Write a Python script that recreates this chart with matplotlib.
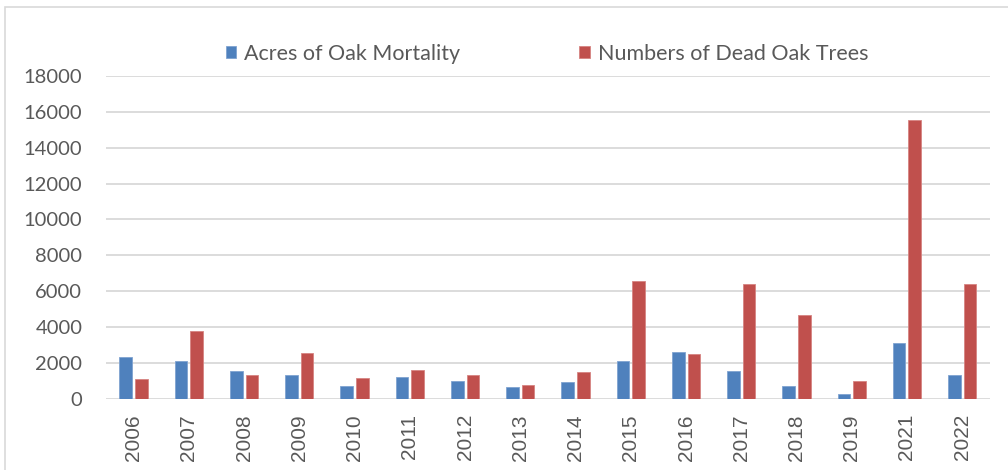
import numpy as np
import matplotlib
matplotlib.use('Agg')
import matplotlib.pyplot as plt
from matplotlib.patches import Rectangle

years = ['2006', '2007', '2008', '2009', '2010', '2011', '2012', '2013',
         '2014', '2015', '2016', '2017', '2018', '2019', '2021', '2022']
acres = [2310, 2090, 1530, 1340, 710, 1230, 970, 650,
         910, 2100, 2590, 1530, 740, 260, 3110, 1300]
dead_trees = [1120, 3800, 1300, 2550, 1150, 1580, 1340, 760,
              1490, 6560, 2510, 6390, 4650, 970, 15540, 6390]
y_ticks = [0, 2000, 4000, 6000, 8000, 10000, 12000, 14000, 16000, 18000]

blue = '#4F81BD'
red = '#C0504D'
txt = '#595959'
grid = '#D9D9D9'

fig = plt.figure(figsize=(10.08, 4.7), dpi=100)
ax = fig.add_axes([0.1051, 0.1515, 0.8769, 0.6868])

x = np.arange(len(years))
w = 0.23
ax.bar(x - 0.142, acres, w, color=blue, edgecolor='#7FA3D1', linewidth=0.6,
       label='Acres of Oak Mortality', zorder=3)
ax.bar(x + 0.142, dead_trees, w, color=red, edgecolor='#D68482', linewidth=0.6,
       label='Numbers of Dead Oak Trees', zorder=3)

ax.set_xlim(-0.5, len(years) - 0.5)
ax.set_ylim(0, 18000)
ax.set_yticks(y_ticks)
ax.set_yticklabels([str(v) for v in y_ticks], fontfamily='Lato', fontsize=14.5, color=txt)
ax.set_xticks(x)
ax.set_xticklabels(years, rotation=90, fontfamily='Liberation Sans', fontsize=15, color=txt)
ax.tick_params(axis='y', length=0, pad=17)
ax.tick_params(axis='x', length=0, pad=11)
ax.yaxis.grid(True, color=grid, linewidth=1.3, zorder=0)
for s in ax.spines.values():
    s.set_visible(False)

fig.legend(loc='center', bbox_to_anchor=(0.5425, 1 - 54 / 470), ncol=2, frameon=False,
           prop={'family': 'Lato', 'size': 15.5}, labelcolor=txt,
           handlelength=0.5, handleheight=0.5, handletextpad=0.37, columnspacing=5.5)

fig.patches.append(Rectangle((5 / 1008, -0.05), 1.1, 1 - 7 / 470 + 0.05,
                             transform=fig.transFigure, fill=False,
                             edgecolor=grid, linewidth=1.2))

fig.savefig('out.png', dpi=100)
